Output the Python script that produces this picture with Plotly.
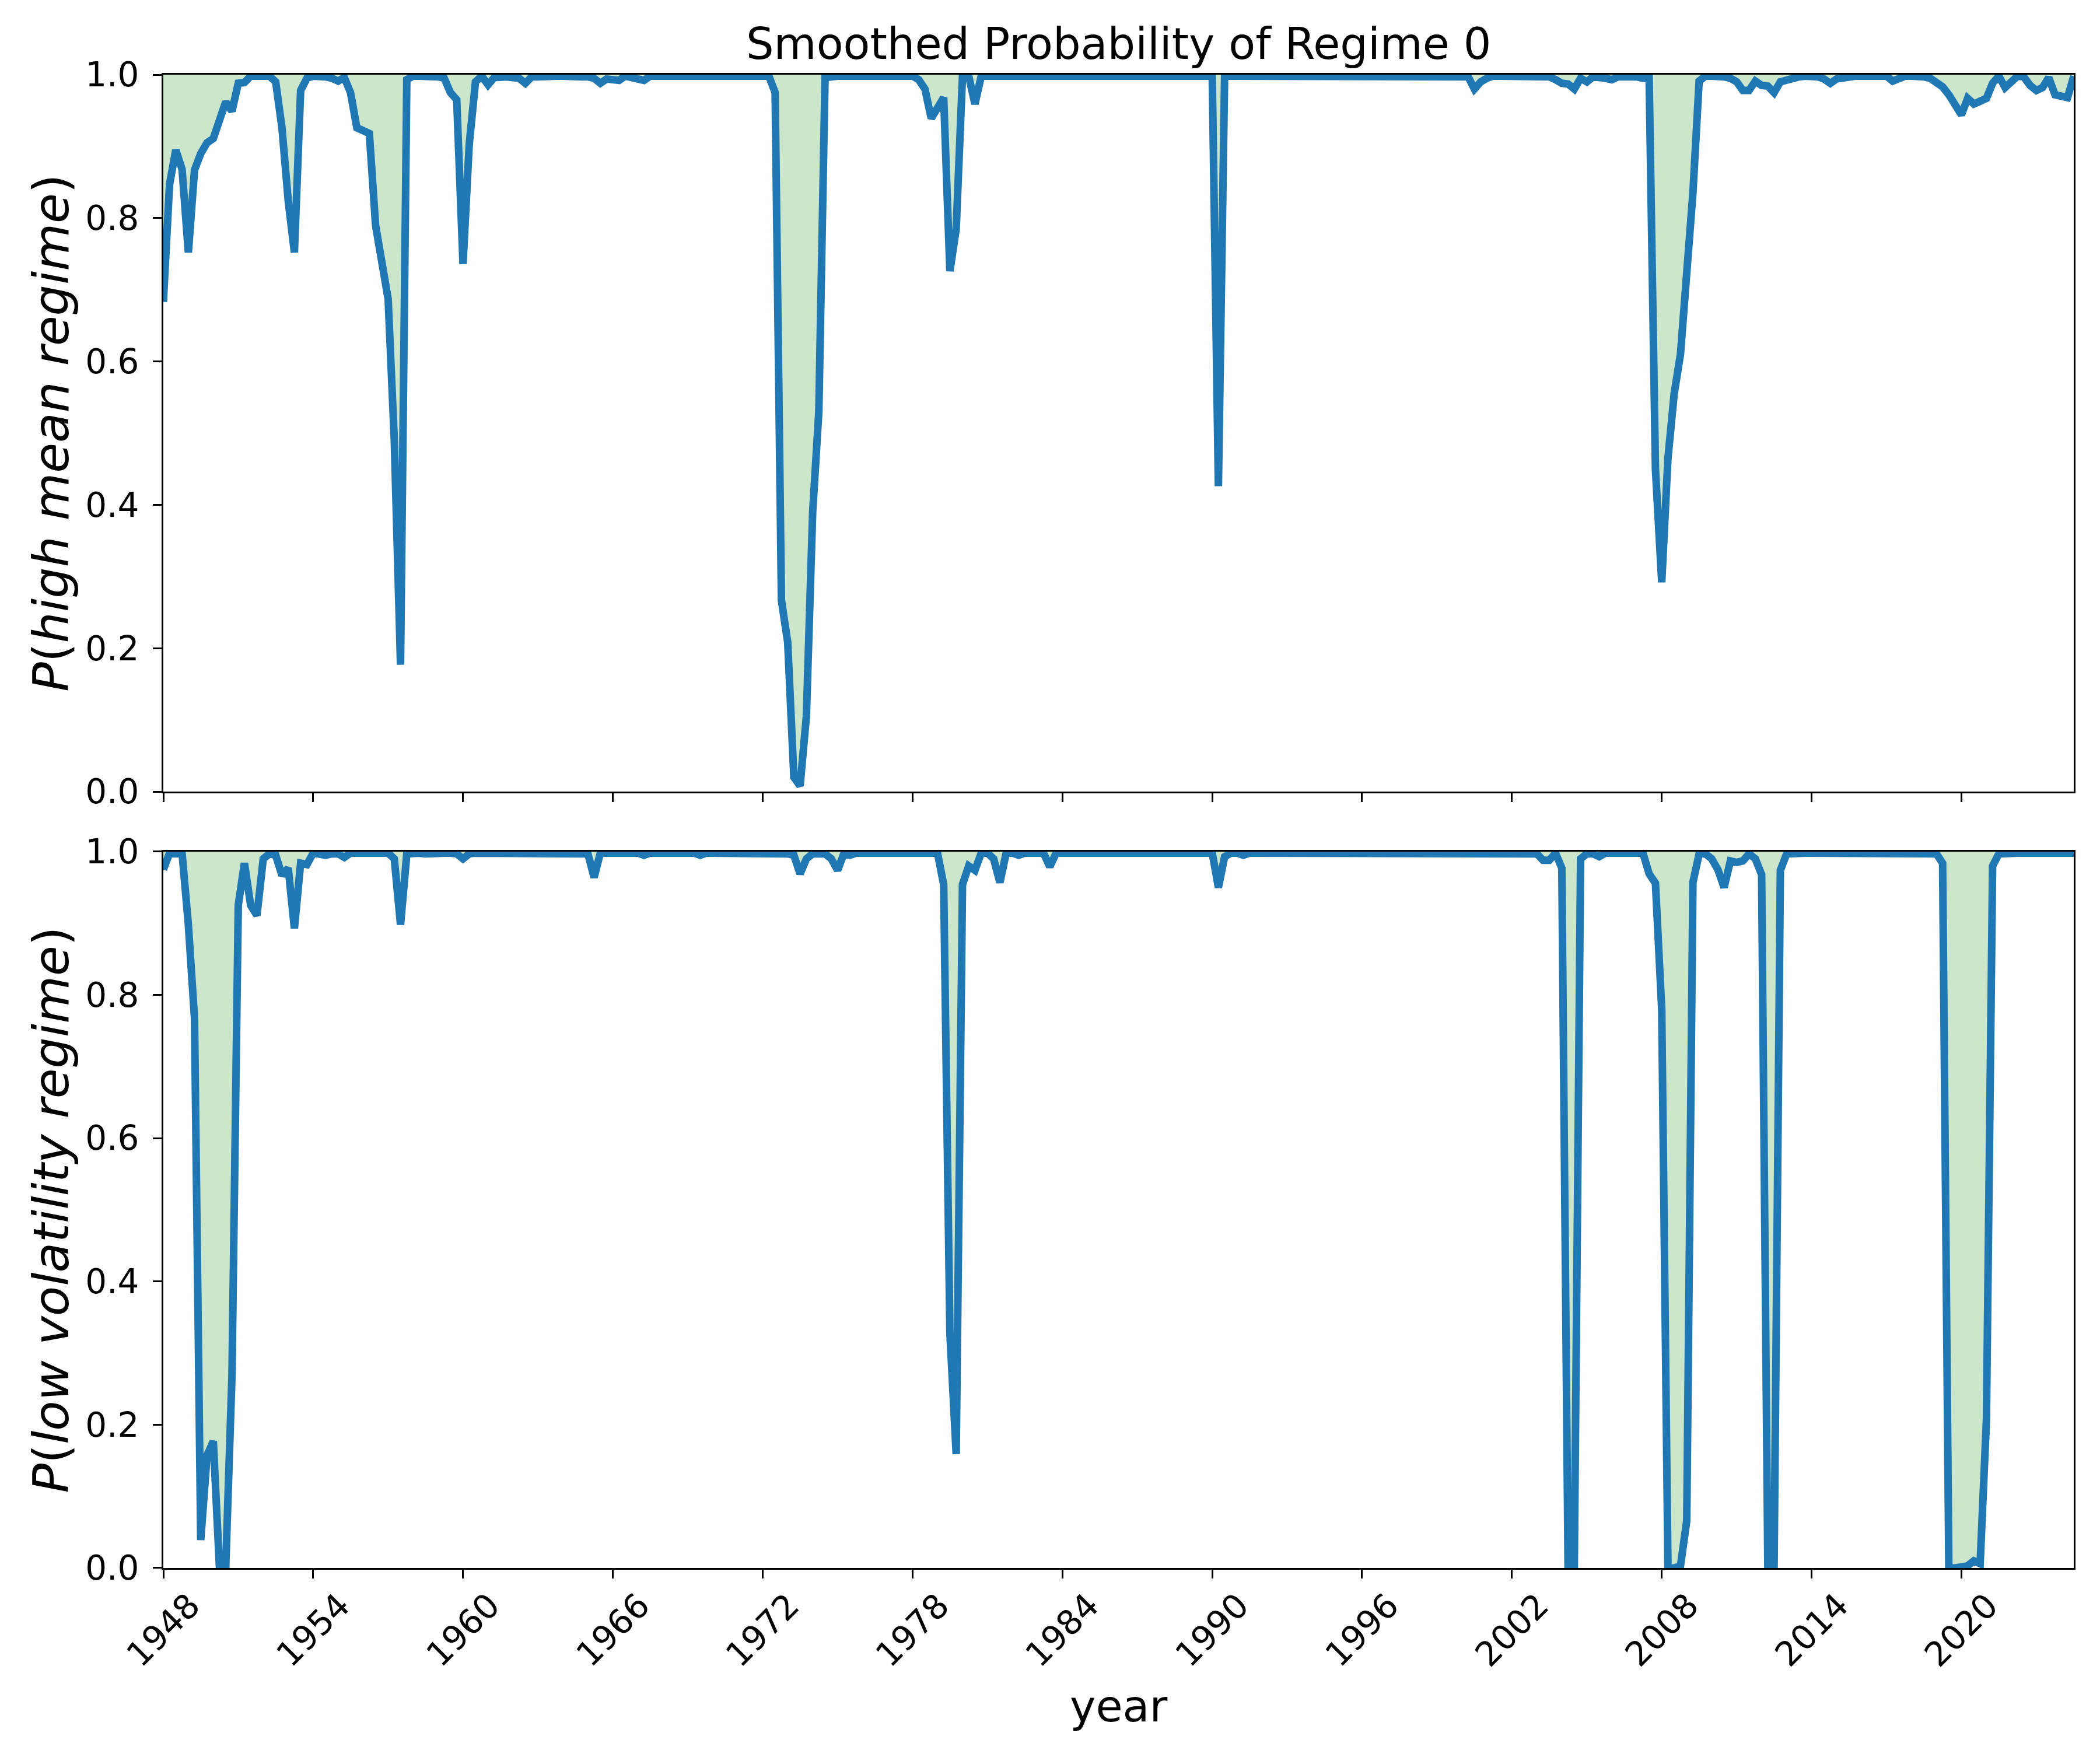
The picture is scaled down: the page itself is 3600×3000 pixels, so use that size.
import pandas as pd
import plotly.graph_objects as go
from plotly.subplots import make_subplots

# smoothed probabilities, one value per quarter starting 1948Q1 (8 values = 2 years per row)
MEAN_PROB = [
    0.683, 0.847, 0.895, 0.868, 0.752, 0.867, 0.890, 0.905,  # 1948
    0.911, 0.940, 0.962, 0.949, 0.988, 0.989, 0.998, 0.998,  # 1950
    0.999, 0.998, 0.990, 0.926, 0.824, 0.752, 0.978, 0.995,  # 1952
    0.998, 0.998, 0.997, 0.995, 0.991, 0.996, 0.975, 0.926,  # 1954
    0.922, 0.918, 0.790, 0.745, 0.687, 0.490, 0.177, 0.993,  # 1956
    0.998, 0.998, 0.998, 0.998, 0.997, 0.995, 0.975, 0.965,  # 1958
    0.736, 0.903, 0.990, 0.998, 0.986, 0.996, 0.997, 0.997,  # 1960
    0.996, 0.995, 0.988, 0.997, 0.997, 0.998, 0.998, 0.998,  # 1962
    0.998, 0.997, 0.997, 0.997, 0.997, 0.995, 0.988, 0.994,  # 1964
    0.993, 0.992, 0.998, 0.997, 0.994, 0.992, 0.998, 0.998,  # 1966
    0.997, 0.998, 0.998, 0.998, 0.997, 0.998, 0.998, 0.998,  # 1968
    0.998, 0.998, 0.998, 0.998, 0.998, 0.998, 0.998, 0.998,  # 1970
    0.998, 0.998, 0.975, 0.267, 0.208, 0.020, 0.008, 0.105,  # 1972
    0.390, 0.530, 0.996, 0.998, 0.998, 0.998, 0.998, 0.998,  # 1974
    0.998, 0.998, 0.997, 0.998, 0.998, 0.998, 0.998, 0.998,  # 1976
    0.998, 0.993, 0.980, 0.939, 0.955, 0.968, 0.726, 0.785,  # 1978
    0.998, 0.998, 0.959, 0.998, 0.998, 0.998, 0.998, 0.998,  # 1980
    0.998, 0.998, 0.998, 0.998, 0.998, 0.998, 0.998, 0.998,  # 1982
    0.998, 0.998, 0.998, 0.998, 0.998, 0.998, 0.998, 0.998,  # 1984
    0.998, 0.998, 0.998, 0.998, 0.998, 0.998, 0.998, 0.998,  # 1986
    0.998, 0.998, 0.998, 0.998, 0.998, 0.998, 0.998, 0.998,  # 1988
    0.998, 0.426, 0.998, 0.998, 0.998, 0.998, 0.998, 0.998,  # 1990
    0.998, 0.998, 0.998, 0.998, 0.998, 0.998, 0.998, 0.998,  # 1992
    0.998, 0.998, 0.998, 0.998, 0.998, 0.998, 0.998, 0.998,  # 1994
    0.998, 0.998, 0.998, 0.998, 0.998, 0.998, 0.998, 0.998,  # 1996
    0.998, 0.997, 0.998, 0.998, 0.998, 0.998, 0.998, 0.998,  # 1998
    0.998, 0.997, 0.980, 0.990, 0.995, 0.998, 0.998, 0.998,  # 2000
    0.998, 0.998, 0.998, 0.998, 0.998, 0.997, 0.997, 0.993,  # 2002
    0.988, 0.987, 0.980, 0.995, 0.990, 0.997, 0.997, 0.995,  # 2004
    0.993, 0.997, 0.997, 0.998, 0.997, 0.995, 0.995, 0.450,  # 2006
    0.292, 0.465, 0.555, 0.610, 0.730, 0.835, 0.991, 0.998,  # 2008
    0.998, 0.998, 0.997, 0.995, 0.990, 0.978, 0.978, 0.991,  # 2010
    0.985, 0.984, 0.975, 0.990, 0.993, 0.995, 0.997, 0.998,  # 2012
    0.998, 0.997, 0.994, 0.988, 0.994, 0.996, 0.997, 0.998,  # 2014
    0.998, 0.998, 0.998, 0.998, 0.998, 0.991, 0.996, 0.998,  # 2016
    0.998, 0.998, 0.997, 0.995, 0.990, 0.983, 0.972, 0.959,  # 2018
    0.944, 0.967, 0.959, 0.963, 0.967, 0.988, 0.998, 0.982,  # 2020
    0.992, 0.998, 0.997, 0.985, 0.978, 0.982, 0.996, 0.972,  # 2022
    0.970, 0.968, 0.998,                                     # 2024
]

VOL_PROB = [
    0.975, 0.998, 0.997, 0.998, 0.898, 0.767, 0.039, 0.157,  # 1948
    0.177, 0.000, 0.000, 0.269, 0.925, 0.984, 0.925, 0.911,  # 1950
    0.990, 0.997, 0.995, 0.967, 0.977, 0.893, 0.984, 0.982,  # 1952
    0.998, 0.997, 0.995, 0.997, 0.997, 0.992, 0.998, 0.998,  # 1954
    0.998, 0.998, 0.998, 0.998, 0.998, 0.990, 0.898, 0.997,  # 1956
    0.998, 0.998, 0.997, 0.998, 0.998, 0.998, 0.998, 0.997,  # 1958
    0.990, 0.997, 0.998, 0.998, 0.998, 0.998, 0.998, 0.998,  # 1960
    0.998, 0.998, 0.998, 0.998, 0.998, 0.998, 0.998, 0.998,  # 1962
    0.998, 0.998, 0.998, 0.998, 0.997, 0.964, 0.998, 0.998,  # 1964
    0.998, 0.998, 0.998, 0.998, 0.998, 0.995, 0.998, 0.998,  # 1966
    0.998, 0.998, 0.998, 0.998, 0.998, 0.998, 0.995, 0.998,  # 1968
    0.998, 0.998, 0.998, 0.998, 0.998, 0.998, 0.998, 0.998,  # 1970
    0.998, 0.998, 0.998, 0.998, 0.997, 0.995, 0.969, 0.990,  # 1972
    0.997, 0.997, 0.997, 0.990, 0.974, 0.997, 0.995, 0.998,  # 1974
    0.998, 0.998, 0.998, 0.996, 0.998, 0.998, 0.998, 0.998,  # 1976
    0.998, 0.998, 0.998, 0.998, 0.998, 0.954, 0.328, 0.159,  # 1978
    0.954, 0.980, 0.974, 0.998, 0.998, 0.990, 0.957, 0.998,  # 1980
    0.998, 0.995, 0.998, 0.998, 0.998, 0.998, 0.979, 0.998,  # 1982
    0.998, 0.998, 0.998, 0.998, 0.998, 0.998, 0.998, 0.998,  # 1984
    0.998, 0.998, 0.998, 0.998, 0.998, 0.998, 0.998, 0.998,  # 1986
    0.998, 0.998, 0.998, 0.998, 0.998, 0.998, 0.998, 0.998,  # 1988
    0.998, 0.950, 0.993, 0.998, 0.998, 0.995, 0.998, 0.998,  # 1990
    0.998, 0.998, 0.998, 0.998, 0.998, 0.998, 0.998, 0.998,  # 1992
    0.998, 0.998, 0.998, 0.998, 0.998, 0.998, 0.998, 0.998,  # 1994
    0.998, 0.998, 0.998, 0.998, 0.998, 0.998, 0.998, 0.998,  # 1996
    0.998, 0.998, 0.998, 0.998, 0.998, 0.998, 0.998, 0.998,  # 1998
    0.998, 0.998, 0.998, 0.998, 0.998, 0.998, 0.998, 0.998,  # 2000
    0.998, 0.998, 0.998, 0.998, 0.997, 0.988, 0.988, 0.998,  # 2002
    0.977, 0.000, 0.000, 0.990, 0.997, 0.997, 0.993, 0.998,  # 2004
    0.998, 0.998, 0.998, 0.998, 0.998, 0.998, 0.969, 0.956,  # 2006
    0.780, 0.000, 0.000, 0.003, 0.066, 0.957, 0.997, 0.997,  # 2008
    0.990, 0.975, 0.950, 0.987, 0.985, 0.987, 0.997, 0.990,  # 2010
    0.968, 0.000, 0.000, 0.974, 0.997, 0.998, 0.998, 0.998,  # 2012
    0.998, 0.998, 0.998, 0.998, 0.998, 0.998, 0.998, 0.998,  # 2014
    0.998, 0.998, 0.998, 0.998, 0.998, 0.998, 0.998, 0.998,  # 2016
    0.998, 0.998, 0.998, 0.998, 0.997, 0.984, 0.000, 0.000,  # 2018
    0.002, 0.003, 0.010, 0.006, 0.207, 0.980, 0.997, 0.998,  # 2020
    0.998, 0.998, 0.998, 0.998, 0.998, 0.998, 0.998, 0.998,  # 2022
    0.998, 0.998, 0.998,                                     # 2024
]

TICK_YEARS = [1948, 1954, 1960, 1966, 1972, 1978, 1984, 1990, 1996, 2002, 2008, 2014, 2020]
Y_TICKS = [0.0, 0.2, 0.4, 0.6, 0.8, 1.0]

TITLE = "Smoothed Probability of Regime 0"
YLABELS = [
    "<i>P</i>(<i>high mean regime</i>)",
    "<i>P</i>(<i>low volatility regime</i>)",
]
XLABEL = "year"

FONT = "DejaVu Sans"
LINE_BLUE = "#1f77b4"
FILL_GREEN = "rgba(0,128,0,0.2)"

QUARTERS = pd.date_range("1948-01-01", periods=len(MEAN_PROB), freq="QS")


def add_panel(fig, row, probs):
    """Line for the probability, shaded up to 1 like fill_between(x, p, 1)."""
    ceiling = [1.0] * len(probs)
    fig.add_trace(
        go.Scatter(x=QUARTERS, y=ceiling, mode="lines", line=dict(width=0),
                   hoverinfo="skip", showlegend=False),
        row=row, col=1,
    )
    fig.add_trace(
        go.Scatter(x=QUARTERS, y=probs, mode="lines", fill="tonexty",
                   fillcolor=FILL_GREEN,
                   line=dict(color=LINE_BLUE, width=13),
                   showlegend=False),
        row=row, col=1,
    )


def style_axes(fig):
    axis_common = dict(
        ticks="outside", ticklen=15, tickwidth=3, tickcolor="black",
        showline=True, linewidth=3, linecolor="black", mirror=True,
        showgrid=False, zeroline=False,
    )
    for r in (1, 2):
        fig.update_xaxes(
            type="date", range=["1948-01-01", "2024-07-01"],
            tickvals=[f"{y}-01-01" for y in TICK_YEARS],
            showticklabels=False, row=r, col=1, **axis_common,
        )
        fig.update_yaxes(
            range=[0, 1], tickvals=Y_TICKS,
            ticktext=[f"{v:.1f}" for v in Y_TICKS],
            tickfont=dict(family=FONT, size=58, color="black"),
            ticklabelstandoff=12, row=r, col=1, **axis_common,
        )
    fig.update_layout(
        yaxis=dict(domain=[0.5199, 1.0]),
        yaxis2=dict(domain=[0.0, 0.4797]),
    )


def add_texts(fig):
    notes = []
    # rotated year labels, centred under the ticks (matplotlib style)
    for y in TICK_YEARS:
        notes.append(dict(
            x=f"{y}-01-01", xref="x2", y=-0.0105, yref="paper",
            text=str(y), textangle=-45, showarrow=False,
            xanchor="center", yanchor="top",
            font=dict(family=FONT, size=58, color="black"),
        ))
    notes.append(dict(
        x=0.5, y=1.0207, xref="paper", yref="paper", text=TITLE,
        showarrow=False, xanchor="center", yanchor="middle",
        font=dict(family=FONT, size=75, color="black"),
    ))
    for label, ymid in zip(YLABELS, [0.760, 0.2398]):
        notes.append(dict(
            x=-0.0585, y=ymid, xref="paper", yref="paper", text=label,
            textangle=-90, showarrow=False, xanchor="center", yanchor="middle",
            font=dict(family=FONT, size=84, color="black"),
        ))
    notes.append(dict(
        x=0.5, y=-0.0926, xref="paper", yref="paper", text=XLABEL,
        showarrow=False, xanchor="center", yanchor="middle",
        font=dict(family=FONT, size=75, color="black"),
    ))
    fig.update_layout(annotations=notes)


def main():
    fig = make_subplots(rows=2, cols=1, shared_xaxes=True, vertical_spacing=0.04)
    add_panel(fig, 1, MEAN_PROB)
    add_panel(fig, 2, VOL_PROB)
    style_axes(fig)
    add_texts(fig)
    # the page body adds 8px on the left/top, so the margins are shifted by that
    fig.update_layout(
        width=3600, height=3000,
        margin=dict(l=272, r=53, t=120, b=320),
        plot_bgcolor="white", paper_bgcolor="white",
        font=dict(family=FONT, size=58, color="black"),
        showlegend=False,
    )
    fig.write_html("out.html")


if __name__ == "__main__":
    main()
